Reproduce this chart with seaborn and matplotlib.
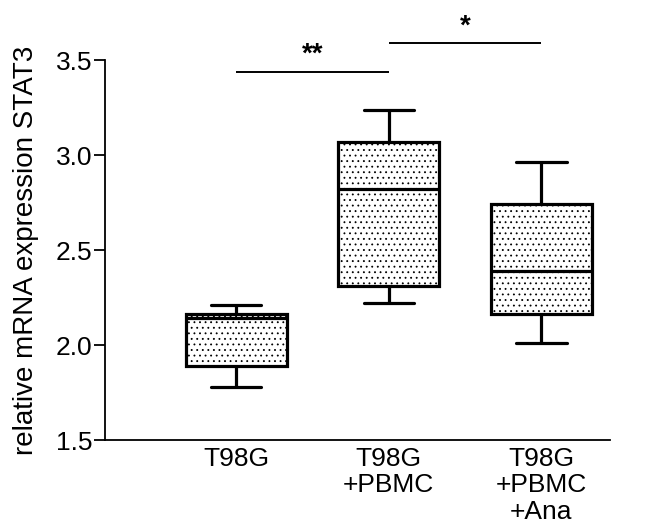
import matplotlib
matplotlib.use("Agg")
import matplotlib.pyplot as plt
import seaborn as sns
import pandas as pd

# Per-group summary values: whisker low, Q1, median, Q3, whisker high
groups = ["T98G", "T98G\n+PBMC", "T98G\n+PBMC\n+Ana"]
t98g = [1.78, 1.89, 2.14, 2.165, 2.21]
t98g_pbmc = [2.22, 2.31, 2.82, 3.07, 3.235]
t98g_pbmc_ana = [2.01, 2.165, 2.39, 2.745, 2.965]
yticks = [1.5, 2.0, 2.5, 3.0, 3.5]
# significance brackets: (left group, right group, height, label)
brackets = [(0, 1, 3.44, "**"), (1, 2, 3.59, "*")]

sns.set_theme(style="ticks")
plt.rcParams["font.family"] = ["Liberation Sans", "DejaVu Sans"]
plt.rcParams["hatch.linewidth"] = 0.6
for key in ["text.color", "axes.labelcolor", "xtick.color", "ytick.color", "axes.edgecolor"]:
    plt.rcParams[key] = "black"

df = pd.DataFrame({
    "group": [groups[0]] * len(t98g) + [groups[1]] * len(t98g_pbmc) + [groups[2]] * len(t98g_pbmc_ana),
    "value": t98g + t98g_pbmc + t98g_pbmc_ana,
})

fig = plt.figure(figsize=(6.62, 5.32), dpi=100)
ax = fig.add_axes([0.1586, 0.1729, 0.763, 0.7141])

sns.boxplot(data=df, x="group", y="value", order=groups, ax=ax,
            color="white", linecolor="black", linewidth=2.3,
            width=0.66, whis=(0, 100), fliersize=0)

for p in ax.patches:
    p.set_hatch("...")
    p.set_edgecolor("black")

for a, b, h, lab in brackets:
    ax.plot([a, b], [h, h], color="black", lw=1.4, solid_capstyle="butt",
            clip_on=False)
    ax.text((a + b) / 2, h + 0.02, lab, ha="center", va="bottom",
            fontsize=20, fontweight="bold", clip_on=False)

ax.set_ylim(1.5, 3.5)
ax.set_xlim(-0.86, 2.45)
ax.set_yticks(yticks)
ax.set_yticklabels([f"{v:.1f}" for v in yticks])
ax.set_xlabel("")
ax.set_ylabel("relative mRNA expression STAT3", fontsize=20, labelpad=12)
ax.tick_params(axis="y", labelsize=19, length=8, width=1.3, pad=1)
ax.tick_params(axis="x", labelsize=19, length=0, pad=5)
for lbl in ax.get_xticklabels():
    lbl.set_linespacing(1.12)

for side in ["top", "right"]:
    ax.spines[side].set_visible(False)
for side in ["left", "bottom"]:
    ax.spines[side].set_linewidth(1.3)

fig.savefig("out.png", dpi=100)
